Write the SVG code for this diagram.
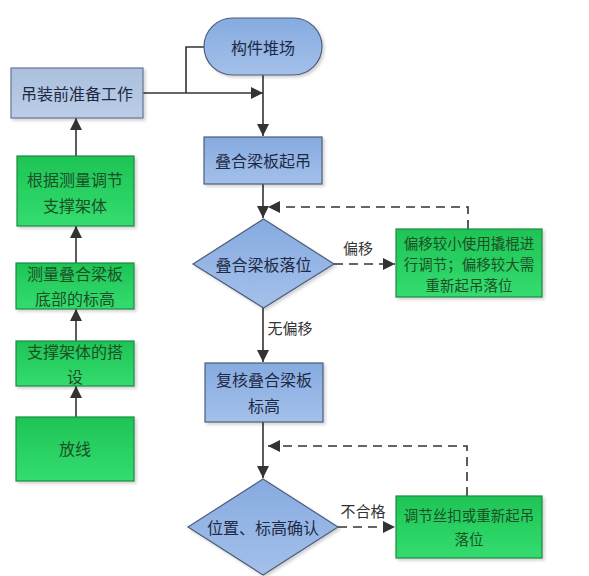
<svg xmlns="http://www.w3.org/2000/svg" width="589" height="576" viewBox="0 0 589 576">
<defs>
<linearGradient id="gGreen" x1="0" y1="0" x2="0" y2="1">
<stop offset="0" stop-color="#1ec455"/>
<stop offset="1" stop-color="#34dc70"/>
</linearGradient>
<linearGradient id="gBlue" x1="0" y1="0" x2="0" y2="1">
<stop offset="0" stop-color="#86abe0"/>
<stop offset="1" stop-color="#a4c0ea"/>
</linearGradient>
<linearGradient id="gGrey" x1="0" y1="0" x2="0" y2="1">
<stop offset="0" stop-color="#aac0de"/>
<stop offset="1" stop-color="#bccde6"/>
</linearGradient>
<filter id="sh" x="-10%" y="-10%" width="130%" height="130%">
<feDropShadow dx="2" dy="2" stdDeviation="1.5" flood-color="#000" flood-opacity="0.18"/>
</filter>
<marker id="arr" viewBox="0 0 10 10" refX="10" refY="5" markerWidth="10" markerHeight="10" markerUnits="userSpaceOnUse" orient="auto">
<path d="M0,0 L10,5 L0,10 Z" fill="#333"/>
</marker>
<marker id="arrL" viewBox="0 0 12 12" refX="12" refY="6" markerWidth="12" markerHeight="12" markerUnits="userSpaceOnUse" orient="auto">
<path d="M0,0 L12,6 L0,12 Z" fill="#333"/>
</marker>
</defs>
<style>
text { font-family: "Noto Sans CJK SC", "Noto Sans", sans-serif; text-anchor: middle; dominant-baseline: central; }
.t { font-size: 16px; fill: #1e2a44; }
.tg { font-size: 16px; fill: #1d4f26; }
.ts { font-size: 14.5px; fill: #1d4f26; }
.lbl { font-size: 15px; fill: #333; }
.green { fill: url(#gGreen); stroke: #1d8a40; stroke-width: 1.2; filter: url(#sh); }
.blue { fill: url(#gBlue); stroke: #4d5d7a; stroke-width: 1.2; filter: url(#sh); }
.grey { fill: url(#gGrey); stroke: #66758e; stroke-width: 1.2; filter: url(#sh); }
.ln { fill: none; stroke: #333; stroke-width: 1.6; }
.dash { fill: none; stroke: #333; stroke-width: 1.6; stroke-dasharray: 9 6; }
</style>
<rect width="589" height="576" fill="#ffffff"/>

<g id="connectors">
<path class="ln" d="M143,93 H263" marker-end="url(#arrL)"/>
<path class="ln" d="M186,93 V47 H204"/>
<path class="ln" d="M263,75 V136" marker-end="url(#arrL)"/>
<path class="ln" d="M263,184 V218" marker-end="url(#arrL)"/>
<path class="dash" d="M468,229 V207 H268" marker-end="url(#arrL)"/>
<path class="dash" d="M334,264 H395" marker-end="url(#arrL)"/>
<path class="ln" d="M263,308 V362" marker-end="url(#arrL)"/>
<path class="ln" d="M263,422 V478" marker-end="url(#arrL)"/>
<path class="dash" d="M467,496 V446 H268" marker-end="url(#arrL)"/>
<path class="dash" d="M338,527 H395" marker-end="url(#arrL)"/>
<path class="ln" d="M76,417 V386" marker-end="url(#arrL)"/>
<path class="ln" d="M76,341 V309" marker-end="url(#arrL)"/>
<path class="ln" d="M76,263 V226" marker-end="url(#arrL)"/>
<path class="ln" d="M76,156 V118" marker-end="url(#arrL)"/>
<text class="lbl" x="358" y="247">偏移</text>
<text class="lbl" x="290" y="327">无偏移</text>
<text class="lbl" x="363" y="510">不合格</text>
</g>

<g id="n_duichang">
<rect class="blue" x="204" y="18" width="118" height="57" rx="28.5" ry="28.5"/>
<text class="t" x="263" y="47">构件堆场</text>
</g>
<g id="n_zhunbei">
<rect class="grey" x="11" y="68" width="132" height="50"/>
<text class="t" x="77" y="93">吊装前准备工作</text>
</g>
<g id="n_qidiao">
<rect class="blue" x="204" y="137" width="118" height="47"/>
<text class="t" x="263" y="160">叠合梁板起吊</text>
</g>
<g id="n_luowei">
<polygon class="blue" points="263.5,219 334,264 263.5,308 193,264"/>
<text class="t" x="263.5" y="264">叠合梁板落位</text>
</g>
<g id="n_tiaojie1">
<rect class="green" x="396" y="229" width="146" height="68"/>
<text class="ts" x="469" y="242">偏移较小使用撬棍进</text>
<text class="ts" x="469" y="263">行调节；偏移较大需</text>
<text class="ts" x="469" y="284">重新起吊落位</text>
</g>
<g id="n_fuhe">
<rect class="blue" x="205" y="363" width="118" height="59"/>
<text class="t" x="264" y="379">复核叠合梁板</text>
<text class="t" x="264" y="405">标高</text>
</g>
<g id="n_queren">
<polygon class="blue" points="263,479 338,527 263,575 188,527"/>
<text class="t" x="263" y="527">位置、标高确认</text>
</g>
<g id="n_tiaojie2">
<rect class="green" x="396" y="496" width="146" height="62"/>
<text class="ts" x="469" y="514">调节丝扣或重新起吊</text>
<text class="ts" x="469" y="538">落位</text>
</g>
<g id="n_genju">
<rect class="green" x="17" y="156" width="117" height="70"/>
<text class="tg" x="75" y="179">根据测量调节</text>
<text class="tg" x="75" y="205">支撑架体</text>
</g>
<g id="n_celiang">
<rect class="green" x="16" y="263" width="118" height="46"/>
<text class="tg" x="75" y="273">测量叠合梁板</text>
<text class="tg" x="75" y="298">底部的标高</text>
</g>
<g id="n_dashe">
<rect class="green" x="16" y="341" width="118" height="45"/>
<text class="tg" x="75" y="351">支撑架体的搭</text>
<text class="tg" x="75" y="376">设</text>
</g>
<g id="n_fangxian">
<rect class="green" x="16" y="417" width="118" height="64"/>
<text class="tg" x="75" y="448">放线</text>
</g>
</svg>
